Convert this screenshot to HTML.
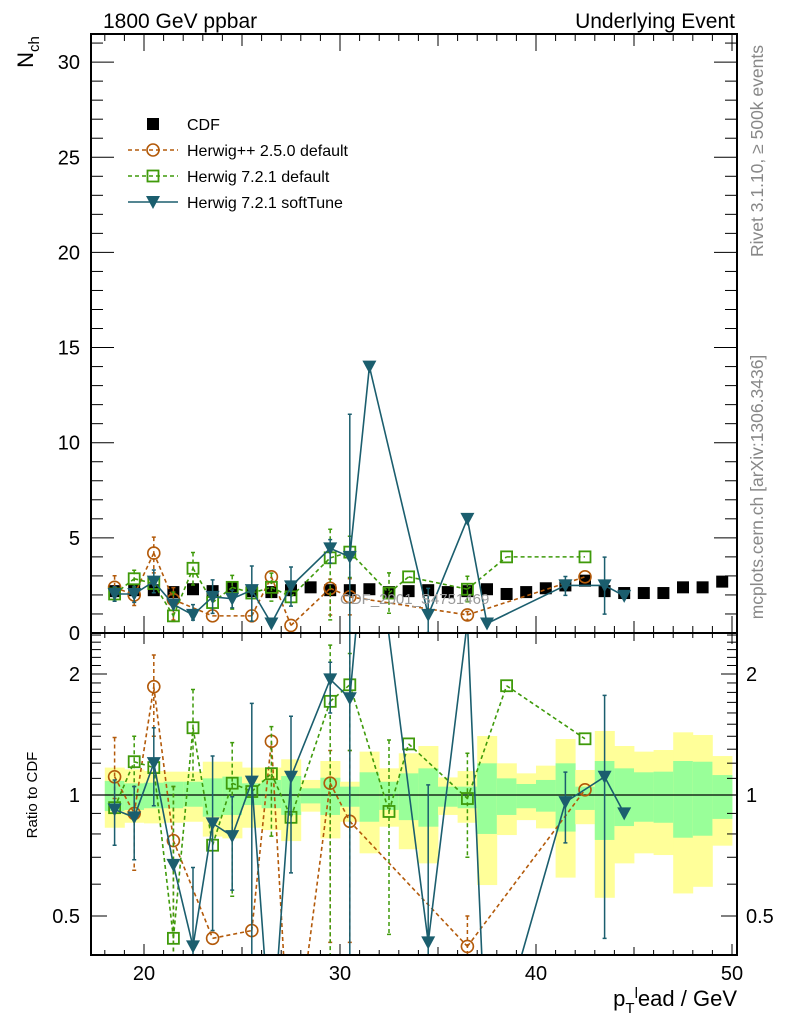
<!DOCTYPE html>
<html><head><meta charset="utf-8"><style>
html,body{margin:0;padding:0;background:#fff;width:786px;height:1024px;overflow:hidden}
svg{display:block;font-family:"Liberation Sans",Arial,sans-serif}
</style></head><body>
<svg id="chart" width="786" height="1024" viewBox="0 0 786 1024" xmlns="http://www.w3.org/2000/svg">
<g id="bands"></g>
<line x1="91" x2="737" y1="795" y2="795" stroke="#000" stroke-width="1.2"/>
<g id="upper"></g>
<g id="lower"></g>
<g id="axes"></g>
<text x="103" y="28" font-size="21">1800 GeV ppbar</text>
<text x="735" y="28" font-size="21" text-anchor="end">Underlying Event</text>
<text transform="translate(33,52) rotate(-90)" font-size="22" text-anchor="middle">N<tspan font-size="15" dy="6">ch</tspan></text>
<text transform="translate(37,795) rotate(-90)" font-size="15" text-anchor="middle">Ratio to CDF</text>
<text x="737" y="1006" font-size="22" text-anchor="end">p<tspan font-size="15" dy="7">T</tspan><tspan font-size="15" dy="-15">l</tspan><tspan dy="8">ead / GeV</tspan></text>
<text transform="translate(763,151) rotate(-90)" font-size="17.5" fill="#888" text-anchor="middle">Rivet 3.1.10, ≥ 500k events</text>
<text transform="translate(763,487) rotate(-90)" font-size="17.5" fill="#888" text-anchor="middle">mcplots.cern.ch [arXiv:1306.3436]</text>
<text x="340" y="604" font-size="15" fill="#999">CDF_2001_S4751469</text>
<g id="legend"></g>
</svg>
<script>
const binCenters=[18.5,19.5,20.5,21.5,22.5,23.5,24.5,25.5,26.5,27.5,28.5,29.5,30.5,31.5,32.5,33.5,34.5,35.5,36.5,37.5,38.5,39.5,40.5,41.5,42.5,43.5,44.5,45.5,46.5,47.5,48.5,49.5];
const cdfValues=[2.2,2.25,2.25,2.15,2.3,2.2,2.35,2.2,2.15,2.25,2.4,2.25,2.25,2.3,2.15,2.2,2.25,2.15,2.2,2.3,2.05,2.15,2.35,2.5,2.75,2.2,2.1,2.1,2.1,2.4,2.4,2.7];
const yellowHi=[1.170,1.158,1.147,1.143,1.143,1.210,1.210,1.170,1.170,1.227,1.090,1.215,1.079,1.282,1.165,1.270,1.324,1.106,1.147,1.402,1.199,1.132,1.183,1.378,1.154,1.443,1.324,1.282,1.294,1.432,1.410,1.250];
const yellowLo=[0.829,0.853,0.850,0.853,0.858,0.788,0.780,0.829,0.818,0.768,0.909,0.780,0.858,0.716,0.834,0.733,0.676,0.892,0.853,0.597,0.795,0.866,0.826,0.623,0.846,0.555,0.676,0.716,0.709,0.569,0.591,0.748];
const greenHi=[1.084,1.069,1.073,1.079,1.079,1.100,1.111,1.069,1.090,1.115,1.039,1.104,1.049,1.139,1.079,1.132,1.165,1.049,1.049,1.199,1.100,1.065,1.090,1.199,1.049,1.215,1.165,1.139,1.143,1.215,1.210,1.121];
const greenLo=[0.912,0.918,0.927,0.927,0.935,0.883,0.892,0.944,0.927,0.892,0.953,0.892,0.935,0.858,0.918,0.866,0.834,0.935,0.927,0.800,0.892,0.927,0.909,0.811,0.918,0.773,0.837,0.858,0.853,0.783,0.792,0.872];
const N=null;
const hppValues=[2.4,2.0,4.2,1.75,N,0.9,N,0.9,2.95,0.4,N,2.35,1.9,N,N,N,N,N,0.95,N,N,N,N,N,2.95,N,N,N,N,N,N,N];
const hppRatio=[1.11,0.90,1.86,0.77,N,0.44,N,0.46,1.36,0.19,N,1.07,0.86,N,N,N,N,N,0.42,N,N,N,N,N,1.03,N,N,N,N,N,N,N];
const hppRatioHi=[1.39,1.05,2.23,1.05,N,N,N,N,N,N,N,1.29,1.29,N,N,N,N,N,0.50,N,N,N,N,N,N,N,N,N,N,N,N,N];
const hppRatioLo=[0.98,0.65,1.40,0.3,N,N,N,N,N,N,N,0.43,0.43,N,N,N,N,N,0.3,N,N,N,N,N,N,N,N,N,N,N,N,N];
const h721Values=[2.05,2.85,2.6,0.9,3.4,1.6,2.4,2.1,2.4,1.9,N,3.95,4.25,N,2.1,2.95,N,N,2.3,N,4.0,N,N,N,4.0,N,N,N,N,N,N,N];
const h721Ratio=[0.93,1.21,1.17,0.44,1.47,0.75,1.07,1.02,1.13,0.88,N,1.71,1.88,N,0.91,1.34,N,N,0.98,N,1.87,N,N,N,1.38,N,N,N,N,N,N,N];
const h721RatioHi=[N,1.40,N,1.05,1.83,N,1.35,N,1.48,N,N,2.36,2.25,N,1.37,N,N,N,1.27,N,N,N,N,N,N,N,N,N,N,N,N,N];
const h721RatioLo=[N,1.0,N,0.3,1.09,N,0.56,N,0.79,N,N,0.3,1.29,N,0.45,N,N,N,0.70,N,N,N,N,N,N,N,N,N,N,N,N,N];
const softValues=[2.05,2.05,2.7,1.5,0.95,1.9,1.8,2.25,0.5,2.45,N,4.45,4.0,14.0,N,N,0.95,N,6.0,0.5,N,N,N,2.5,N,2.5,1.95,N,N,N,N,N];
const softRatio=[0.92,0.88,1.20,0.67,0.42,0.85,0.79,1.08,0.23,1.11,N,1.94,1.74,6.0,N,N,0.43,N,2.7,0.2,N,N,N,0.96,N,1.11,0.90,N,N,N,N,N];
const softRatioHi=[1.09,1.05,1.47,N,0.66,1.25,0.99,1.69,N,1.57,N,2.14,5.0,N,N,N,1.06,N,N,N,N,N,N,1.14,N,1.77,N,N,N,N,N,N];
const softRatioLo=[0.75,0.69,0.94,N,0.3,0.46,0.58,0.3,N,0.64,N,1.6,0.01,N,N,N,0.01,N,N,N,N,N,N,0.76,N,0.44,N,N,N,N,N,N];
const upperTicks=[0,5,10,15,20,25,30];
const ratioMajor=[0.5,1,2];
const ratioMinor=[0.4,0.6,0.7,0.8,0.9,1.1,1.2,1.3,1.4,1.5,1.6,1.7,1.8,1.9,2.1,2.2,2.3,2.4,2.5];
const xTicks=[20,30,40,50];

const NS='http://www.w3.org/2000/svg';
const L=91,R=737,T=34,MID=633,B=955;
const xPx=v=>144+(v-20)*19.6;
const yU=v=>633-v*19.03;
const yR=r=>795-121*Math.log2(r);
function mk(tag,parent,attrs){const e=document.createElementNS(NS,tag);for(const k in attrs)e.setAttribute(k,attrs[k]);parent.appendChild(e);return e;}
const clampY=(y,y0,y1)=>Math.min(Math.max(y,y0),y1);

const gb=document.getElementById('bands');
binCenters.forEach((c,i)=>{
  const x0=xPx(c-0.5),w=19.6;
  const y=mk('rect',gb,{x:x0,y:yR(yellowHi[i]),width:w+0.4,height:yR(yellowLo[i])-yR(yellowHi[i]),fill:'#ffff99'});
  
  
  const g=mk('rect',gb,{x:x0,y:yR(greenHi[i]),width:w+0.4,height:yR(greenLo[i])-yR(greenHi[i]),fill:'#99ff99'});
  
  
});

function marker(parent,type,x,y,color,name){
  let e;
  if(type==='sq') e=mk('rect',parent,{x:x-6,y:y-6,width:12,height:12,fill:'#000'});
  else if(type==='circ') e=mk('circle',parent,{cx:x,cy:y,r:6,fill:'none',stroke:color,'stroke-width':1.6});
  else if(type==='osq') e=mk('rect',parent,{x:x-5.5,y:y-5.5,width:11,height:11,fill:'none',stroke:color,'stroke-width':1.8});
  else e=mk('path',parent,{d:`M${x-7},${y-6}L${x+7},${y-6}L${x},${y+7}Z`,fill:color});
  
  
  return e;
}
function clipSeg(p,q,y0,y1){
  let [x1,ya]=p,[x2,yb]=q;let t0=0,t1=1;const dy=yb-ya;
  const chk=(pp,qq)=>{if(pp===0)return qq>=0;const t=qq/pp;if(pp<0){if(t>t1)return false;if(t>t0)t0=t;}else{if(t<t0)return false;if(t<t1)t1=t;}return true;};
  if(!chk(-dy,ya-y0))return null;if(!chk(dy,y1-ya))return null;
  return [[x1+(x2-x1)*t0,ya+dy*t0],[x1+(x2-x1)*t1,ya+dy*t1]];
}
function series(parent,vals,rHi,rLo,ratio,color,dash,type,isUpper,name){
  const pts=[];
  const y0=isUpper?T:MID,y1=isUpper?MID:B;
  const yf=isUpper?yU:yR;
  binCenters.forEach((c,i)=>{
    if(vals[i]===null)return;
    const v=isUpper?vals[i]:ratio[i];
    pts.push([xPx(c),yf(v)]);
    if(rHi[i]!==null){
      const hi=isUpper?vals[i]*rHi[i]/ratio[i]:rHi[i];
      const lo=isUpper?Math.max(vals[i]*rLo[i]/ratio[i],0.001):rLo[i];
      const x=xPx(c);
      const yh=yf(hi),yl=yf(lo);
      const yhc=clampY(yh,y0,y1),ylc=clampY(yl,y0,y1);
      if(ylc-yhc<0.5)return;
      let d=`M${x},${yhc}L${x},${ylc}`;
      if(yh===yhc)d+=`M${x-2},${yh}L${x+2},${yh}`;
      if(yl===ylc)d+=`M${x-2},${yl}L${x+2},${yl}`;
      const ln=mk('path',parent,{d,stroke:color,'stroke-width':1.5,fill:'none','stroke-dasharray':dash||'none'});
      
      
    }
  });
  let d='';
  for(let k=0;k+1<pts.length;k++){const s=clipSeg(pts[k],pts[k+1],y0,y1);if(s)d+=`M${s[0][0]},${s[0][1]}L${s[1][0]},${s[1][1]}`;}
  const pl=mk('path',parent,{d,fill:'none',stroke:color,'stroke-width':1.6,'stroke-dasharray':dash||'none'});
  
  
  pts.forEach(p=>{if(p[1]>=y0&&p[1]<=y1)marker(parent,type,p[0],p[1],color,name+'-point');});
}
const OR='#b35a0a',GR='#3f9a0a',TE='#1b5e6e';
const gu=document.getElementById('upper'),gl=document.getElementById('lower');
binCenters.forEach((c,i)=>marker(gu,'sq',xPx(c),yU(cdfValues[i]),'#000','cdf-point'));
series(gu,hppValues,hppRatioHi,hppRatioLo,hppRatio,OR,'4,3','circ',true,'herwigpp-250');
series(gu,h721Values,h721RatioHi,h721RatioLo,h721Ratio,GR,'4,3','osq',true,'herwig-721-default');
series(gu,softValues,softRatioHi,softRatioLo,softRatio,TE,null,'tri',true,'herwig-721-softtune');
series(gl,hppValues,hppRatioHi,hppRatioLo,hppRatio,OR,'4,3','circ',false,'herwigpp-250-ratio');
series(gl,h721Values,h721RatioHi,h721RatioLo,h721Ratio,GR,'4,3','osq',false,'herwig-721-default-ratio');
series(gl,softValues,softRatioHi,softRatioLo,softRatio,TE,null,'tri',false,'herwig-721-softtune-ratio');

const ga=document.getElementById('axes');
function ln(x1,y1,x2,y2,w,name){const e=mk('line',ga,{x1,y1,x2,y2,stroke:'#000','stroke-width':w||1});return e;}
function tx(x,y,s,anchor,name){const e=mk('text',ga,{x,y,'font-size':20,'text-anchor':anchor});e.textContent=s;return e;}
mk('rect',ga,{x:L,y:T,width:R-L,height:B-T,fill:'none',stroke:'#000','stroke-width':2});
ln(L,MID,R,MID,2,'panel-divider');
for(let v=0;v<=31;v++){const y=yU(v);const maj=v%5===0;const len=maj?23:12;
  ln(L,y,L+len,y,1,'y-tick');ln(R,y,R-len,y,1,'y-tick');
  if(maj&&upperTicks.includes(v))tx(80,y+7,String(v),'end','y-tick-label');}
ratioMajor.forEach(r=>{const y=yR(r);ln(L,y,L+16,y,1,'ratio-tick');ln(R,y,R-16,y,1,'ratio-tick');
  tx(80,y+7,String(r),'end','ratio-tick-label');tx(746,y+7,String(r),'start','ratio-tick-label-right');});
ratioMinor.forEach(r=>{const y=yR(r);ln(L,y,L+10,y,1,'ratio-minor-tick');ln(R,y,R-10,y,1,'ratio-minor-tick');});
for(let v=18;v<=50;v++){const x=xPx(v);const maj=v%10===0;const mid=v%5===0;
  const lu=maj?17:(mid?12:7),ll=maj?11:(mid?8:5);
  ln(x,T,x,T+lu,1,'x-tick');ln(x,MID,x,MID-lu,1,'x-tick');
  ln(x,B,x,B-ll,1,'x-tick');ln(x,MID,x,MID+ll,1,'x-tick');}
xTicks.forEach(v=>tx(xPx(v),980,String(v),'middle','x-tick-label'));

const gL=document.getElementById('legend');
const legItems=[['CDF','sq','#000',null,false],['Herwig++ 2.5.0 default','circ',OR,'4,3',true],['Herwig 7.2.1 default','osq',GR,'4,3',true],['Herwig 7.2.1 softTune','tri',TE,null,true]];
legItems.forEach((it,i)=>{const y=124+i*26;
  if(it[4]){const l=mk('line',gL,{x1:128,x2:178,y1:y,y2:y,stroke:it[2],'stroke-width':1.6,'stroke-dasharray':it[3]||'none'});}
  marker(gL,it[1],153,y,it[2],'legend-marker');
  const t=mk('text',gL,{x:187,y:y+6,'font-size':16});t.textContent=it[0];
  
  });
</script>
</body></html>
